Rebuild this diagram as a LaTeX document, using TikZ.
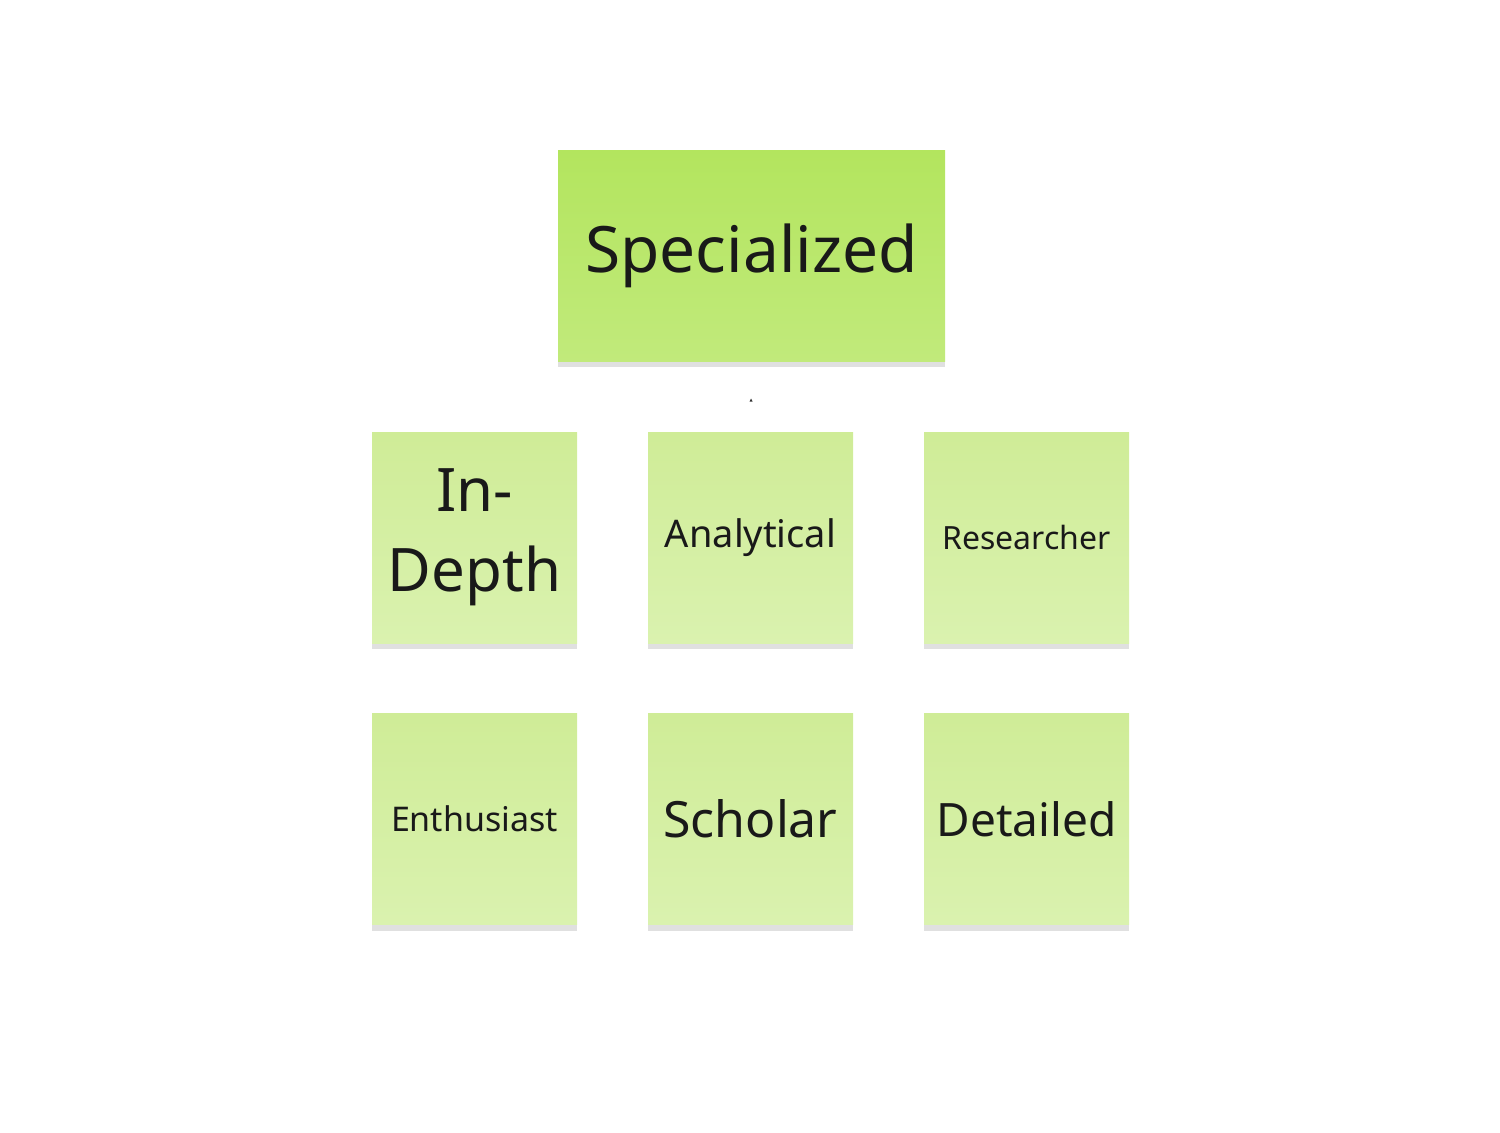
\documentclass[tikz,border=0pt]{standalone}
\usepackage{fontspec}
\setmainfont{Noto Sans}
\usetikzlibrary{shadows}
\begin{document}
\begin{tikzpicture}[x=1pt,y=-1pt,
  note/.style={minimum width=205pt,minimum height=211pt,inner sep=0pt,align=center,
    top color=#1,bottom color=#1!60!white,text=black!90,
    drop shadow={shadow xshift=0pt,shadow yshift=-6pt,opacity=0.12,fill=black}},
  note/.default={green!45!yellow!50!white}]
\useasboundingbox (0,0) rectangle (1500,1133);
\definecolor{topg}{HTML}{B3E55E}
\definecolor{topg2}{HTML}{C1EA7B}
\definecolor{lowg}{HTML}{CFEC97}
\definecolor{lowg2}{HTML}{DAF2AF}
\tikzset{low/.style={note,top color=lowg,bottom color=lowg2}}
\node[note,top color=topg,bottom color=topg2,minimum width=387pt,minimum height=211pt,
  font=\fontsize{64}{70}\selectfont\bfseries] (spec) at (751.5,255.5) {Specialized};
\node[low,font=\fontsize{60}{80}\selectfont] (indepth) at (474.5,537.5) {In-\\Depth};
\node[low,font=\fontsize{38}{44}\selectfont] (anal) at (750.5,537.5) {Analytical};
\node[low,font=\fontsize{32}{38}\selectfont] (res) at (1026.5,537.5) {Researcher};
\node[low,font=\fontsize{34}{40}\selectfont] (enth) at (474.5,819) {Enthusiast};
\node[low,font=\fontsize{50}{56}\selectfont] (schol) at (750.5,819) {Scholar};
\node[low,font=\fontsize{46}{52}\selectfont] (det) at (1026.5,819) {Detailed};
\fill[black!80] (749.5,401.5) -- (752.5,401.5) -- (751,398.5) -- cycle;
\end{tikzpicture}
\end{document}
